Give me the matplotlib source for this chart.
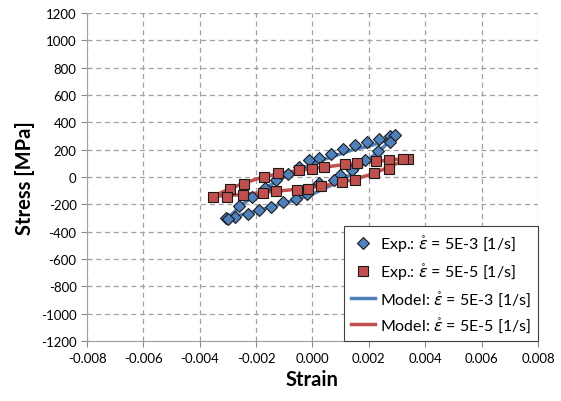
import numpy as np
import matplotlib
matplotlib.use('Agg')
import matplotlib.pyplot as plt

plt.rcParams['font.family'] = ['Lato', 'DejaVu Sans']
plt.rcParams['mathtext.fontset'] = 'dejavusans'

# Experimental data, strain rate 5E-3 [1/s]
exp3_strain = [-0.00306, -0.00275, -0.00259, -0.00216, -0.00169, -0.00129, -0.00087, -0.00047,
               -0.00011, 0.00022, 0.00066, 0.00108, 0.00151, 0.00195, 0.00236, 0.00275, 0.00293,
               0.00275, 0.00231, 0.00187, 0.00140, 0.00098, 0.00075, 0.00024, -0.00018,
               -0.00058, -0.00103, -0.00146, -0.00188, -0.00228, -0.00299]
exp3_stress = [-297, -293, -215, -146, -78, -24, 25, 73,
               122, 139, 171, 208, 237, 257, 276, 298, 305,
               257, 190, 122, 54, 12, -24, -44, -122,
               -161, -180, -220, -239, -273, -310]

# Experimental data, strain rate 5E-5 [1/s]
exp5_strain = [0.00338, 0.00321, 0.00271, 0.00224, 0.00157, 0.00116, 0.00041, -0.00002,
               -0.00049, -0.00122, -0.00172, -0.00243, -0.00294, -0.00353,
               -0.00302, -0.00247, -0.00176, -0.00129, -0.00056, -0.00016, 0.00031,
               0.00104, 0.00151, 0.00217, 0.00271]
exp5_stress = [135, 135, 122, 117, 103, 93, 73, 61,
               49, 29, 0, -48, -85, -146,
               -146, -134, -117, -103, -92, -85, -68,
               -39, -19, 29, 61]

# Model, strain rate 5E-3 [1/s]
mod3_strain = [-0.0030, -0.0025, -0.0020, -0.0015, -0.0010, -0.0005, 0.0, 0.0005, 0.0010,
               0.0015, 0.0020, 0.0025, 0.0029, 0.0025, 0.0020, 0.0015, 0.0010, 0.0005, 0.0,
               -0.0005, -0.0010, -0.0015, -0.0020, -0.0025, -0.0030]
mod3_stress = [-300, -275, -250, -220, -190, -160, -125, -75, -30,
               40, 130, 215, 300, 260, 225, 205, 170, 135, 95,
               50, 0, -60, -130, -200, -300]

# Model, strain rate 5E-5 [1/s]
mod5_strain = [-0.0035, -0.0030, -0.0025, -0.0020, -0.0015, -0.0010, -0.0005, 0.0, 0.0005,
               0.0010, 0.0015, 0.0020, 0.0025, 0.0030, 0.0034, 0.0030, 0.0025, 0.0020, 0.0015,
               0.0010, 0.0005, 0.0, -0.0005, -0.0010, -0.0015, -0.0020, -0.0025, -0.0030, -0.0035]
mod5_stress = [-140, -135, -128, -118, -108, -98, -88, -75, -60,
               -40, -15, 15, 55, 100, 140, 130, 120, 110, 100,
               88, 75, 62, 48, 32, 12, -15, -50, -90, -140]

xticks = np.arange(-0.008, 0.0081, 0.002)
yticks = np.arange(-1200, 1201, 200)

fig = plt.figure(figsize=(5.61, 4.02), dpi=100)
ax = fig.add_axes([0.155, 0.149, 0.804, 0.816])

blue = '#4F81BD'
red = '#C0504D'

ax.plot(mod3_strain, mod3_stress, color=blue, lw=2.5, zorder=2,
        label=r'Model: $\mathring{\varepsilon}$ = 5E-3 [1/s]')
ax.plot(mod5_strain, mod5_stress, color=red, lw=2.5, zorder=2,
        label=r'Model: $\mathring{\varepsilon}$ = 5E-5 [1/s]')
ax.plot(exp3_strain, exp3_stress, 'D', color=blue, ms=6, mec='#1a1a1a', mew=0.8, zorder=3,
        label=r'Exp.: $\mathring{\varepsilon}$ = 5E-3 [1/s]')
ax.plot(exp5_strain, exp5_stress, 's', color=red, ms=7.5, mec='#1a1a1a', mew=0.8, zorder=4,
        label=r'Exp.: $\mathring{\varepsilon}$ = 5E-5 [1/s]')

ax.set_xlim(-0.008, 0.008)
ax.set_ylim(-1200, 1200)
ax.set_xticks(xticks)
ax.set_yticks(yticks)
ax.set_xticklabels(['%.3f' % v for v in xticks])
ax.set_yticklabels(['%d' % v for v in yticks])
ax.tick_params(labelsize=9.5, colors='#888888', labelcolor='black', length=4)
ax.grid(True, color='#A0A0A0', ls='--', lw=0.9, dashes=(4, 3))
for s in ['top', 'right']:
    ax.spines[s].set_visible(False)
for s in ['left', 'bottom']:
    ax.spines[s].set_color('#A0A0A0')

ax.set_xlabel('Strain', fontsize=14.5, fontweight='bold')
ax.set_ylabel('Stress [MPa]', fontsize=14.5, fontweight='bold')

handles, labels = ax.get_legend_handles_labels()
order = [2, 3, 0, 1]
leg = ax.legend([handles[i] for i in order], [labels[i] for i in order],
                loc='lower right', fontsize=11.5, fancybox=False, framealpha=1,
                edgecolor='#404040', handlelength=1.5, handletextpad=0.3,
                borderaxespad=0.0, labelspacing=0.45, borderpad=0.45)
leg.get_frame().set_linewidth(0.8)

plt.savefig('out.png', dpi=100)
